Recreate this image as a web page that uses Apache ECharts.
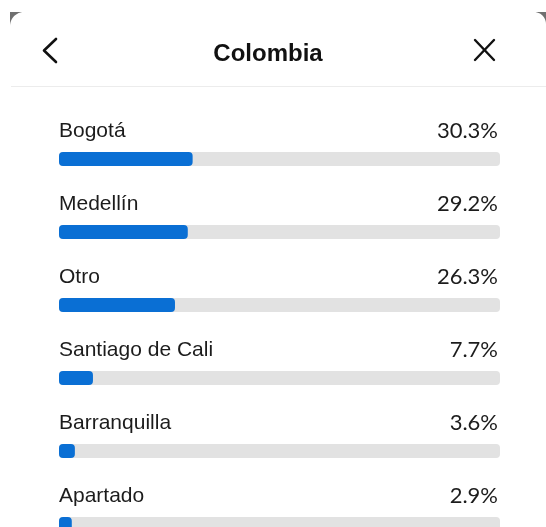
<!DOCTYPE html>
<html>
<head>
<meta charset="utf-8">
<script src="https://cdn.jsdelivr.net/npm/echarts@6/dist/echarts.min.js"></script>
<style>
  html, body { margin: 0; padding: 0; background: #ffffff; }
  #chart { width: 546px; height: 527px; }
</style>
</head>
<body>
<div id="chart"></div>
<script>
// Share of audience by city, Colombia
const title = 'Colombia';
const cities = ['Bogotá', 'Medellín', 'Otro', 'Santiago de Cali', 'Barranquilla', 'Apartado'];
const shares = [30.3, 29.2, 26.3, 7.7, 3.6, 2.9];

const chart = echarts.init(document.getElementById('chart'), null, { renderer: 'canvas' });

const nameFont = '"Liberation Sans", Arial, sans-serif';
const valueFont = 'Lato, "Noto Sans", sans-serif';

// concave wedge between a rounded card corner and its square bounding corner
function cornerWedge(cx, cy, r, ax, ay) {
  const sx = Math.sign(ax - cx), sy = Math.sign(ay - cy);
  const pts = [[ax, ay]];
  for (let k = 0; k <= 12; k++) {
    const t = (Math.PI / 2) * k / 12;
    pts.push([cx + sx * r * Math.sin(t), cy + sy * r * Math.cos(t)]);
  }
  return pts;
}

chart.setOption({
  backgroundColor: '#ffffff',
  animation: false,
  // the list runs past the bottom edge, so the grid is allowed to overflow
  grid: { left: 59, right: 46, top: 122.5, height: 438, outerBoundsMode: 'none', containLabel: false },
  xAxis: {
    type: 'value', min: 0, max: 100,
    show: false
  },
  yAxis: [
    {
      type: 'category', inverse: true, data: cities,
      axisLine: { show: false }, axisTick: { show: false }, splitLine: { show: false },
      axisLabel: {
        inside: true, margin: 0, align: 'left', verticalAlign: 'bottom',
        padding: [0, 0, 17, 0],
        color: '#1c1c1c', fontSize: 21, fontFamily: nameFont
      }
    },
    {
      type: 'category', inverse: true, data: cities, position: 'right',
      axisLine: { show: false }, axisTick: { show: false }, splitLine: { show: false },
      axisLabel: {
        inside: true, margin: 2, align: 'right', verticalAlign: 'bottom',
        padding: [0, 0, 17, 0],
        color: '#1c1c1c', fontSize: 22, fontFamily: valueFont,
        formatter: (v, i) => shares[i].toFixed(1) + '%'
      }
    }
  ],
  series: [{
    type: 'bar',
    data: shares,
    barWidth: 14,
    itemStyle: { color: '#0a6fd4', borderRadius: 4 },
    showBackground: true,
    backgroundStyle: { color: '#e2e2e2', borderRadius: 4 },
    silent: true
  }],
  graphic: [
    // rounded card corners against the dark frame
    { type: 'polygon', shape: { points: cornerWedge(24, 26, 14, 10, 12) }, style: { fill: '#707070' } },
    { type: 'polygon', shape: { points: cornerWedge(534, 24, 12, 546, 12) }, style: { fill: '#707070' } },
    // header
    { type: 'polyline', shape: { points: [[56, 39], [44, 50.5], [56, 62]] },
      style: { stroke: '#111', lineWidth: 2.6, fill: null, lineCap: 'round', lineJoin: 'round' } },
    { type: 'line', shape: { x1: 475, y1: 40, x2: 494, y2: 60 }, style: { stroke: '#111', lineWidth: 2.4, lineCap: 'round' } },
    { type: 'line', shape: { x1: 494, y1: 40, x2: 475, y2: 60 }, style: { stroke: '#111', lineWidth: 2.4, lineCap: 'round' } },
    { type: 'text', x: 268, y: 54, style: {
        text: title, fill: '#111', font: 'bold 24px "Liberation Sans", Arial, sans-serif',
        textAlign: 'center', textVerticalAlign: 'middle' } },
    { type: 'rect', shape: { x: 11, y: 86, width: 535, height: 1 }, style: { fill: '#ececec' } }
  ]
});
</script>
</body>
</html>
